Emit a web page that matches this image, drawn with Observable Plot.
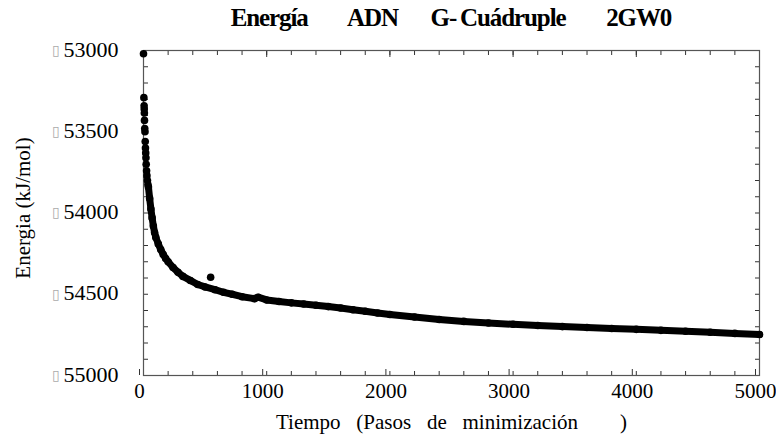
<!DOCTYPE html>
<html><head><meta charset="utf-8">
<script src="https://cdn.jsdelivr.net/npm/d3@7"></script>
<script src="https://cdn.jsdelivr.net/npm/@observablehq/plot@0.6"></script>
<style>
body{margin:0;background:#fff;font-family:"Liberation Serif",serif;}
#title{height:30px;box-sizing:border-box;padding-top:6px;padding-left:143px;width:759px;text-align:center;font-weight:bold;font-size:25px;line-height:24px;letter-spacing:-1.1px;word-spacing:3px;white-space:pre;color:#000;}
svg{display:block}
</style></head><body>
<div id="title"></div>
<div id="chart"></div>
<script>
const titleText = "Energía     ADN    G‐\u2009Cuádruple     2GW0";
const xLabel = "Tiempo   (Pasos   de   minimización        )";
const yLabel = "Energia (kJ/mol)";

const steps = [0,3,5,6,7,8,10,12,14,16,18,20,22,25,28,32,36,
  40,50,60,70,80,90,100,120,140,160,180,200,240,280,320,380,440,500,545,580,650,720,800,900,930,1000,
  1100,1200,1300,1400,1500,1600,1700,1800,1900,2000,2200,2400,2600,2800,3000,3200,3400,3600,3800,
  4000,4200,4400,4600,4800,5000];
const energy = [-53020,-53290,-53340,-53360,-53385,-53430,-53480,-53500,-53560,-53600,-53630,-53660,-53700,-53740,-53770,-53800,-53825,
  -53840,-53910,-53975,-54030,-54080,-54120,-54150,-54190,-54225,-54255,-54280,-54300,-54335,-54365,-54390,-54415,-54440,-54455,-54395,-54472,-54488,-54500,-54515,-54527,-54518,-54535,
  -54545,-54553,-54560,-54568,-54576,-54585,-54595,-54605,-54615,-54625,-54640,-54655,-54667,-54677,-54685,-54692,-54699,-54705,-54711,
  -54716,-54722,-54728,-54734,-54741,-54748];
const outlierStep = 545;

const xMajor = [0,1000,2000,3000,4000,5000];
const xMinor = d3.range(0,5001,200);
const yMajor = [-53000,-53500,-54000,-54500,-55000];
const yMinor = d3.range(-55000,-52999,100);
const yTickLabels = ["53000","53500","54000","54500","55000"];

document.getElementById("title").textContent = titleText;

const data = steps.map((s,i)=>({step:s, e:energy[i]}));
const band = data.filter(d=>d.step>=40 && d.step!==outlierStep);
const yLab = yMajor.map((v,i)=>({v, t:yTickLabels[i]}));

const plot = Plot.plot({
  width:776, height:406,
  marginTop:20, marginBottom:61, marginLeft:143, marginRight:17,
  style:{fontFamily:"Liberation Serif", fontSize:"20px", color:"#000", background:"#fff"},
  x:{domain:[0,5000]},
  y:{domain:[-55000,-53000]},
  marks:[
    Plot.axisX(xMinor,{anchor:"bottom", tickSize:-4, tickFormat:()=>"", stroke:"#333", label:null}),
    Plot.axisX(xMinor,{anchor:"top", tickSize:-4, tickFormat:()=>"", stroke:"#333", label:null}),
    Plot.axisX(xMajor,{anchor:"bottom", tickSize:-6, tickPadding:14, dx:-4, tickFormat:d=>String(d), stroke:"#333", fontSize:21, label:null, letterSpacing:-1.8}),
    Plot.axisX(xMajor,{anchor:"top", tickSize:-6, tickFormat:()=>"", stroke:"#333", label:null}),
    Plot.axisY(yMinor,{anchor:"left", tickSize:-5, tickFormat:()=>"", stroke:"#333", label:null}),
    Plot.axisY(yMinor,{anchor:"right", tickSize:-5, tickFormat:()=>"", stroke:"#333", label:null}),
    Plot.frame({stroke:"#555", strokeWidth:1.2}),
    Plot.text(yLab,{y:"v", text:"t", frameAnchor:"left", dx:-25, dy:-1, textAnchor:"end", fontSize:22, letterSpacing:-1.6}),
    Plot.text(yLab,{y:"v", text:()=>"▯", frameAnchor:"left", dx:-92, textAnchor:"start", fontSize:14, fill:"#aaa"}),
    Plot.line(band,{x:"step", y:"e", stroke:"#000", strokeWidth:7, strokeLinecap:"round", strokeLinejoin:"round"}),
    Plot.dot(data,{x:"step", y:"e", r:3.8, fill:"#000", stroke:"none"}),
    Plot.text([xLabel],{text:d=>d, frameAnchor:"bottom", dy:53, fontSize:21, letterSpacing:-0.6}),
    Plot.text([yLabel],{text:d=>d, frameAnchor:"left", dx:-120, dy:-5, rotate:-90, textAnchor:"middle", fontSize:21, letterSpacing:0.4})
  ]
});
document.getElementById("chart").appendChild(plot);
</script>
</body></html>
